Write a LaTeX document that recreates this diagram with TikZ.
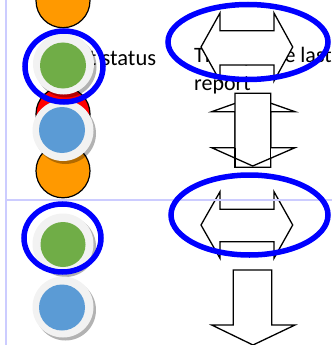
\documentclass[tikz,border=0pt]{standalone}
\usepackage{fontspec}
\setmainfont{Carlito}
\definecolor{lav}{HTML}{CCCCFF}
\definecolor{orng}{HTML}{FF9900}
\definecolor{grn}{HTML}{70AD47}
\definecolor{blu}{HTML}{5B9BD5}
\definecolor{ringc}{HTML}{F2F2F2}
\definecolor{hl}{HTML}{0000FF}
\tikzset{
  guide/.style={draw=lav, line width=1.3pt},
  lamp/.style={draw=black, line width=1.2pt},
  ringdisc/.style={fill=ringc},
  shade/.style={fill=black, opacity=0.3},
  arrowshape/.style={draw=black, line width=1.3pt, fill=white, line join=miter},
  arrowline/.style={draw=black, line width=1.3pt},
  hilite/.style={draw=hl, line width=5.5pt},
  lbl/.style={inner sep=0pt, font=\fontsize{22.5}{28}\selectfont}
}
\begin{document}
\begin{tikzpicture}[x=1pt,y=-1pt]
\useasboundingbox (0,0) rectangle (332,345);
% vertical guide
\coordinate (vtop) at (6,0);
\coordinate (vbot) at (6,345);
\draw[guide] (vtop) -- (vbot);
% texts
\node[lbl, anchor=base west] (t1) at (60,66) {Last status};
\node[lbl, anchor=base west, font=\fontsize{22}{28}\selectfont] (t2) at (194,62.5) {The update last};
\node[lbl, anchor=base west, font=\fontsize{22}{28}\selectfont] (t3) at (194,90.5) {report};
% lamps
\fill[orng] (63,0.7) circle[radius=27pt];
\draw[lamp] (63,0.7) circle[radius=27pt];
\fill[red] (63,114) circle[radius=27pt];
\draw[lamp] (63,114) circle[radius=27pt];
\fill[orng] (63,170.8) circle[radius=27pt];
\draw[lamp] (63,170.8) circle[radius=27pt];
% ring lamps
\fill[shade] (66,67) circle[radius=30.5pt];
\fill[ringdisc] (63.5,64) circle[radius=30.5pt];
\fill[grn] (63,65.5) circle[radius=23pt];
\fill[shade] (65.5,133.5) circle[radius=30.5pt];
\fill[ringdisc] (63,130.5) circle[radius=30.5pt];
\fill[blu] (62,130) circle[radius=23pt];
\fill[shade] (65.5,246.5) circle[radius=30.5pt];
\fill[ringdisc] (63,244) circle[radius=30.5pt];
\fill[grn] (63,244.5) circle[radius=22.5pt];
\fill[shade] (65.5,310) circle[radius=30.5pt];
\fill[ringdisc] (63,307) circle[radius=30.5pt];
\fill[blu] (62,307.5) circle[radius=23pt];
% top left-right arrow
\path[arrowshape] (201,47) -- (220,13) -- (220,30.7) -- (274,30.7) -- (274,13) -- (292.7,47)
  -- (274,81) -- (274,65) -- (220,65) -- (220,81) -- cycle;
% up arrow behind
\path[arrowshape] (253,97) -- (295,111.7) -- (270.7,111.7) -- (270.7,167.3) -- (235,167.3)
  -- (235,111.7) -- (211.7,111.7) -- cycle;
% top down arrow
\path[arrowshape] (235,93.3) -- (270.7,93.3) -- (270.7,147.7) -- (295,147.7) -- (252.7,166)
  -- (211.7,147.7) -- (235,147.7) -- cycle;
\coordinate (s1) at (235,147.7);
\coordinate (s2) at (235,167.3);
\coordinate (s3) at (270.7,167.3);
\coordinate (s4) at (270.7,147.7);
\draw[arrowline] (s1) -- (s2) -- (s3) -- (s4);
% bottom left-right arrow
\path[arrowshape] (201,225) -- (220,191.7) -- (220,209.3) -- (274,209.3) -- (274,191.7) -- (292.7,225)
  -- (274,258.3) -- (274,241.7) -- (220,241.7) -- (220,258.3) -- cycle;
% bottom down arrow
\path[arrowshape] (233.3,270) -- (271.7,270) -- (271.7,325) -- (295,325) -- (253,345)
  -- (211.7,325) -- (233.3,325) -- cycle;
% horizontal guide
\coordinate (hl) at (6,200);
\coordinate (hr) at (332,200);
\draw[guide] (hl) -- (hr);
% highlights
\draw[hilite] (64,66.5) ellipse[x radius=39pt, y radius=35.5pt];
\draw[hilite] (62.5,238) ellipse[x radius=38.5pt, y radius=34pt];
\draw[hilite] (248,42) ellipse[x radius=80pt, y radius=37.5pt];
\draw[hilite] (249.5,215) ellipse[x radius=78.5pt, y radius=40pt];
\end{tikzpicture}
\end{document}
